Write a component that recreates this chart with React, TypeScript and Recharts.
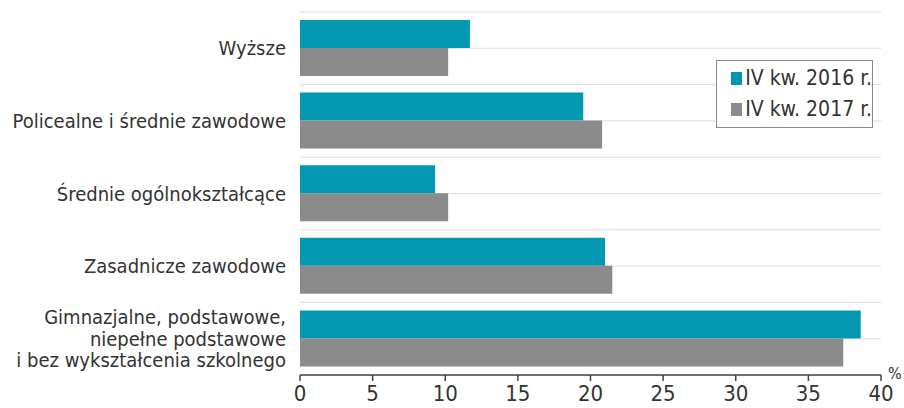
import React from "react"
import { BarChart, Bar, XAxis, YAxis, CartesianGrid } from "recharts"

const categories = [
  "Wyższe",
  "Policealne i średnie zawodowe",
  "Średnie ogólnokształcące",
  "Zasadnicze zawodowe",
  "Gimnazjalne, podstawowe,\nniepełne podstawowe\ni bez wykształcenia szkolnego",
]
const q4_2016 = [11.7, 19.5, 9.3, 21.0, 38.6]
const q4_2017 = [10.2, 20.8, 10.2, 21.5, 37.4]
const xTicks = [0, 5, 10, 15, 20, 25, 30, 35, 40]
const seriesNames = ["IV kw. 2016 r.", "IV kw. 2017 r."]

const TEAL = "#0298b1"
const GRAY = "#8b8b8b"
const FONT = "'DejaVu Sans Condensed', 'Liberation Sans Narrow', sans-serif"

const data = categories.map((name, i) => ({ name, a: q4_2016[i], b: q4_2017[i] }))

function CategoryTick(props: any) {
  const { x, y, payload } = props
  const lines = String(payload.value).split("\n")
  const lh = 21.5
  const start = -((lines.length - 1) * lh) / 2
  return (
    <text x={x} y={y} textAnchor="end" fill="#333" fontSize={20} fontFamily={FONT}>
      {lines.map((l, i) => (
        <tspan key={i} x={x} y={y + start + i * lh} dy="0.35em">
          {l}
        </tspan>
      ))}
    </text>
  )
}

function LegendBox() {
  const colors = [TEAL, GRAY]
  return (
    <div
      style={{
        position: "absolute",
        left: 716,
        top: 60,
        width: 157,
        boxSizing: "border-box",
        border: "1px solid #8a8a8a",
        background: "#fff",
        padding: "2px 0 2px 14px",
        fontFamily: FONT,
        fontSize: 21,
        color: "#333",
        lineHeight: "31px",
      }}
    >
      {seriesNames.map((n, i) => (
        <div key={n} style={{ display: "flex", alignItems: "center", whiteSpace: "nowrap" }}>
          <span style={{ width: 13, height: 13, background: colors[i], display: "inline-block", marginRight: 3 }} />
          {n}
        </div>
      ))}
    </div>
  )
}

export default function App() {
  return (
    <div style={{ position: "absolute", left: 0, top: 0, width: 904, height: 408, background: "#fff" }}>
      <BarChart
        width={904}
        height={408}
        data={data}
        layout="vertical"
        margin={{ top: 12, right: 23, left: 0, bottom: 0 }}
        barCategoryGap={8}
        barGap={0}
      >
        <CartesianGrid
          vertical={false}
          stroke="#dedede"
          horizontalCoordinatesGenerator={({ offset }: any) => {
            const n = categories.length * 2
            return Array.from({ length: n + 1 }, (_, i) => offset.top + (offset.height * i) / n)
          }}
        />
        <XAxis
          type="number"
          domain={[0, 40]}
          ticks={xTicks}
          height={33}
          axisLine={{ stroke: "#444", strokeWidth: 1.5 }}
          tickLine={{ stroke: "#444", strokeWidth: 1.5 }}
          tickSize={6}
          tickMargin={4}
          tick={{ fill: "#333", fontSize: 22, fontFamily: FONT }}
          label={{ value: "%", position: "right", offset: 7, dy: -18, fill: "#333", fontSize: 16, fontFamily: FONT }}
        />
        <YAxis
          type="category"
          dataKey="name"
          width={300}
          axisLine={false}
          tickLine={false}
          tick={<CategoryTick />}
          tickMargin={8}
          interval={0}
        />
        <Bar dataKey="a" name={seriesNames[0]} fill={TEAL} isAnimationActive={false} />
        <Bar dataKey="b" name={seriesNames[1]} fill={GRAY} isAnimationActive={false} />
      </BarChart>
      <LegendBox />
    </div>
  )
}
